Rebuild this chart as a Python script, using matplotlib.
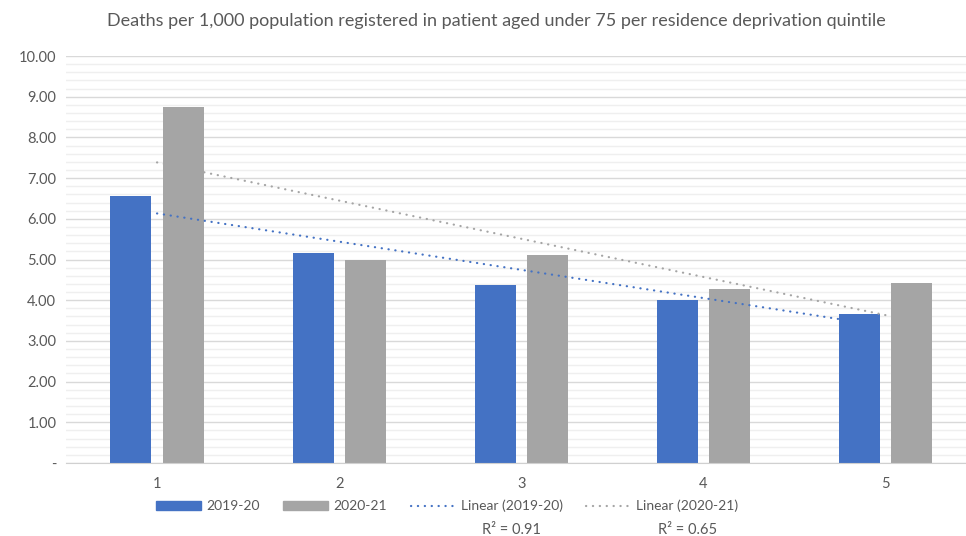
import numpy as np
import matplotlib.pyplot as plt
from matplotlib.lines import Line2D
from matplotlib.patches import Patch

plt.rcParams['font.family'] = ['Lato', 'DejaVu Sans']

quintiles = [1, 2, 3, 4, 5]
deaths_1920 = [6.55, 5.15, 4.37, 4.00, 3.66]
deaths_2021 = [8.75, 5.00, 5.10, 4.28, 4.42]
series_names = ['2019-20', '2020-21']

blue = '#4472C4'
grey = '#A5A5A5'
txt = '#595959'
dots = (0, (0.1, 3.0))

fig = plt.figure(figsize=(9.66, 5.36), dpi=100)
ax = fig.add_axes([0.0683, 0.1362, 0.9425, 0.7593])

x = np.array(quintiles, dtype=float)
w = 0.225
ax.bar(x - 0.143, deaths_1920, w, color=blue, zorder=3, label=series_names[0])
ax.bar(x + 0.143, deaths_2021, w, color=grey, zorder=3, label=series_names[1])

# linear trendlines + R squared
r2 = []
for vals, col in [(deaths_1920, blue), (deaths_2021, grey)]:
    y = np.array(vals)
    k, b = np.polyfit(x, y, 1)
    fit = k * x + b
    r2.append(1 - np.sum((y - fit) ** 2) / np.sum((y - y.mean()) ** 2))
    ax.plot([x[0], x[-1]], [k * x[0] + b, k * x[-1] + b], color=col, lw=1.6,
            linestyle=dots, dash_capstyle='round', zorder=4)

ax.set_xlim(0.5, 5.5)
ax.set_ylim(0, 10)
ax.set_yticks(np.arange(0, 10.01, 1))
ax.set_yticklabels(['-'] + ['%.2f' % v for v in range(1, 11)])
ax.set_yticks(np.arange(0, 10.01, 0.2), minor=True)
ax.set_xticks(quintiles)
ax.set_xticklabels([str(q) for q in quintiles])
ax.grid(axis='y', which='major', color='#D9D9D9', lw=1, zorder=0)
ax.grid(axis='y', which='minor', color='#EFEFEF', lw=1, zorder=0)
ax.tick_params(axis='both', which='both', length=0, colors=txt, labelsize=10.5)
ax.tick_params(axis='y', pad=7)
ax.tick_params(axis='x', pad=10)
for s in ['top', 'right', 'left']:
    ax.spines[s].set_visible(False)
ax.spines['bottom'].set_color('#D0D0D0')
ax.spines['bottom'].set_zorder(5)

fig.text(0.514, 0.96, 'Deaths per 1,000 population registered in patient aged under 75 per residence deprivation quintile',
         ha='center', va='center', color=txt, fontsize=13)

handles = [Patch(color=blue), Patch(color=grey),
           Line2D([], [], color=blue, lw=1.6, linestyle=dots, dash_capstyle='round'),
           Line2D([], [], color=grey, lw=1.6, linestyle=dots, dash_capstyle='round')]
labels = series_names + ['Linear (%s)' % n for n in series_names]
leg = fig.legend(handles, labels, ncol=4, loc='center', bbox_to_anchor=(0.463, 0.056),
                 frameon=False, fontsize=10, labelcolor=txt, handlelength=3.2,
                 handleheight=0.6, columnspacing=1.7, handletextpad=0.4)

fig.canvas.draw()
inv = fig.transFigure.inverted()
for t, r in zip(leg.get_texts()[2:], r2):
    bb = t.get_window_extent()
    cx = inv.transform(((bb.x0 + bb.x1) / 2, 0))[0]
    fig.text(cx, 0.011, 'R² = %.2f' % r, ha='center', va='center', color=txt, fontsize=10.5)

fig.savefig('out.png', dpi=100)
